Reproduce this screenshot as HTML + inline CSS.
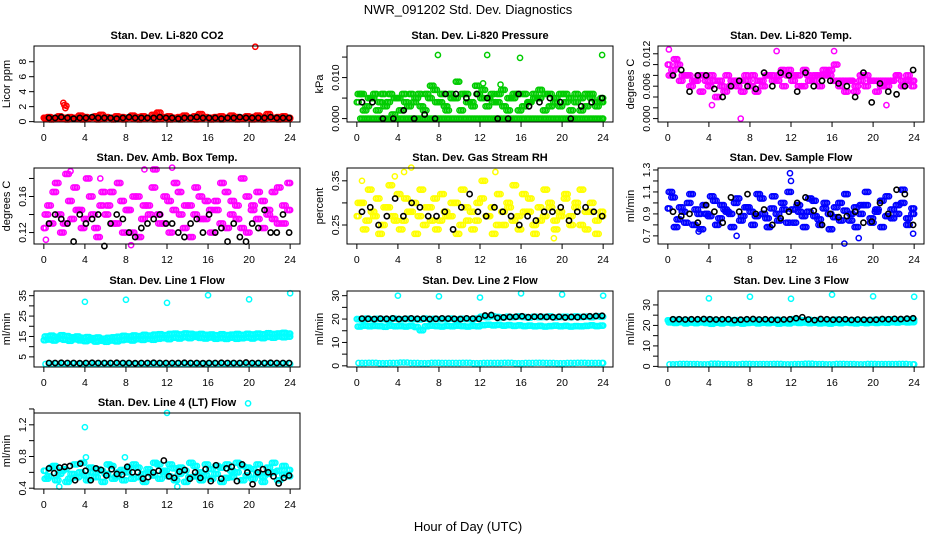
<!DOCTYPE html>
<html><head><meta charset="utf-8"><style>
html,body{margin:0;padding:0;background:#fff;}
svg{display:block;font-family:"Liberation Sans",sans-serif;}
</style></head><body>
<svg id="chart" width="936" height="540" viewBox="0 0 936 540">
<text x="468" y="14" text-anchor="middle" font-size="13">NWR_091202  Std. Dev. Diagnostics</text>
<text x="468" y="531" text-anchor="middle" font-size="13">Hour of Day (UTC)</text>
</svg>
<script>
// ---- data ----
const co2A=[0.5,0.6,0.4,0.7,0.5,0.6,0.5,0.8,0.6,0.5,0.7,0.9,0.6,0.5,0.7,0.6,0.5,0.8,0.6,0.7,0.5,0.9,1.2,0.6,0.7,0.5,0.6,0.8,0.5,0.7,1.0,0.6,0.5,0.6,0.7,0.5,0.8,0.6,0.5,0.7,0.6,0.8,0.6,1.0,0.5,0.6,0.7,0.5];
const co2B=[0.4,0.3,0.5,0.4,0.3,0.5,0.4,0.3,0.4,0.5,0.3,0.4,0.5,0.3,0.4,0.3,0.5,0.4,0.3,0.4,0.5,0.3,0.4,0.5,0.3,0.4,0.3,0.5,0.4,0.3,0.4,0.5,0.3,0.4,0.3,0.5,0.4,0.3,0.4,0.5,0.3,0.4,0.3,0.5,0.4,0.3,0.4,0.4];
const co2ExT=[1.9,2.0,2.2,2.1,20.6];
const co2ExV=[2.5,2.2,2.1,1.8,10];
const co2Blk=[0.5,0.5,0.6,0.5,0.4,0.5,0.5,0.6,0.5,0.5,0.5,0.4,0.5,0.6,0.5,0.5,0.5,0.5,0.6,0.5,0.5,0.4,0.5,0.5,0.6,0.5,0.5,0.5,0.4,0.5,0.5,0.6,0.5,0.5,0.5,0.5,0.6,0.5,0.5,0.5];

const prA=[0.004,0.006,0.003,0.005,0.002,0.006,0.004,0.001,0.005,0.006,0.003,0.004,0.006,0.002,0.005,0.007,0.004,0.003,0.006,0.005,0.002,0.006,0.004,0.008,0.005,0.003,0.006,0.004,0.007,0.002,0.005,0.006,0.003,0.004,0.006,0.005,0.002,0.006,0.004,0.003,0.006,0.005,0.004,0.002,0.006,0.005,0.003,0.004];
const prB=[0.006,0.002,0.005,0.006,0.004,0.003,0.006,0.005,0.002,0.004,0.006,0.005,0.003,0.006,0.008,0.004,0.006,0.002,0.005,0.009,0.006,0.004,0.003,0.006,0.007,0.005,0.004,0.006,0.003,0.005,0.006,0.002,0.006,0.004,0.005,0.007,0.006,0.003,0.005,0.006,0.004,0.002,0.006,0.005,0.003,0.006,0.004,0.005];
const prZero=[0,0,0,0,0,0,0,0,0,0,0,0,0,0,0,0,0,0,0,0,0,0,0,0,0,0,0,0,0,0,0,0,0,0,0,0,0,0,0,0,0,0,0,0,0,0,0,0];
const prExT=[7.9,12.7,15.9,23.9,12.3,14.0];
const prExV=[0.0155,0.0155,0.0148,0.0155,0.0086,0.0083];
const prBlk=[0.004,0.004,0,0,0.002,0,0.001,0,0.006,0.006,0.005,0.006,0.005,0,0,0.006,0.003,0.004,0.005,0.004,0,0.003,0.004,0.005];

const ltA=[0.010,0.009,0.010,0.008,0.008,0.007,0.008,0.008,0.006,0.007,0.007,0.005,0.006,0.007,0.007,0.008,0.006,0.005,0.007,0.008,0.008,0.007,0.009,0.008,0.007,0.008,0.006,0.008,0.007,0.008,0.009,0.008,0.007,0.006,0.007,0.007,0.005,0.007,0.006,0.007,0.007,0.006,0.007,0.007,0.008,0.007,0.007,0.006];
const ltB=[0.008,0.011,0.007,0.008,0.006,0.007,0.005,0.007,0.008,0.004,0.006,0.008,0.007,0.006,0.005,0.007,0.008,0.007,0.006,0.008,0.007,0.008,0.006,0.009,0.008,0.006,0.009,0.007,0.008,0.006,0.008,0.009,0.010,0.007,0.005,0.007,0.006,0.008,0.008,0.007,0.005,0.007,0.006,0.007,0.008,0.006,0.008,0.007];
const ltExT=[7.1,4.3,10.6,16.2,21.3,0.1];
const ltExV=[0.0,0.0025,0.0125,0.0125,0.0025,0.0128];
const ltBlk=[0.008,0.009,0.005,0.008,0.008,0.0055,0.004,0.006,0.007,0.006,0.0055,0.0085,0.006,0.0085,0.008,0.005,0.0085,0.006,0.007,0.007,0.0065,0.006,0.004,0.0085,0.003,0.0065,0.005,0.0045,0.006,0.009];

const amA=[0.125,0.150,0.165,0.140,0.130,0.155,0.170,0.145,0.135,0.160,0.125,0.150,0.140,0.165,0.130,0.155,0.145,0.120,0.160,0.135,0.150,0.170,0.140,0.130,0.155,0.145,0.165,0.125,0.150,0.140,0.160,0.135,0.145,0.155,0.130,0.165,0.140,0.150,0.125,0.160,0.145,0.135,0.155,0.140,0.165,0.130,0.150,0.145];
const amB=[0.140,0.130,0.175,0.120,0.185,0.135,0.145,0.125,0.180,0.140,0.115,0.165,0.150,0.130,0.175,0.120,0.145,0.160,0.115,0.150,0.140,0.190,0.130,0.160,0.120,0.175,0.140,0.150,0.115,0.170,0.135,0.155,0.120,0.145,0.175,0.125,0.155,0.135,0.180,0.120,0.150,0.165,0.125,0.145,0.135,0.170,0.130,0.175];
const amExT=[2.6,5.5,9.8,12.5,8.5,0.2];
const amExV=[0.188,0.180,0.190,0.192,0.106,0.112];
const amBlk=[0.13,0.14,0.135,0.13,0.11,0.14,0.13,0.135,0.14,0.105,0.13,0.14,0.135,0.12,0.115,0.125,0.13,0.135,0.14,0.13,0.13,0.12,0.115,0.13,0.135,0.12,0.14,0.12,0.125,0.11,0.13,0.115,0.11,0.13,0.125,0.145,0.12,0.12,0.14,0.12];

const rhA=[0.27,0.30,0.26,0.28,0.31,0.25,0.29,0.27,0.32,0.26,0.28,0.30,0.27,0.25,0.29,0.31,0.26,0.28,0.27,0.30,0.25,0.29,0.28,0.26,0.31,0.27,0.29,0.25,0.28,0.30,0.26,0.27,0.32,0.28,0.25,0.29,0.27,0.30,0.26,0.28,0.31,0.27,0.29,0.25,0.28,0.30,0.26,0.28];
const rhB=[0.30,0.24,0.33,0.27,0.23,0.29,0.34,0.26,0.24,0.31,0.28,0.23,0.33,0.29,0.26,0.24,0.32,0.27,0.30,0.23,0.33,0.26,0.24,0.30,0.35,0.27,0.23,0.32,0.25,0.29,0.34,0.24,0.28,0.31,0.23,0.26,0.33,0.29,0.24,0.27,0.32,0.25,0.30,0.33,0.24,0.28,0.23,0.27];
const rhExT=[0.5,3.7,4.6,5.3,13.5,19.2];
const rhExV=[0.35,0.36,0.37,0.38,0.37,0.22];
const rhBlk=[0.28,0.29,0.25,0.27,0.31,0.27,0.30,0.29,0.27,0.27,0.28,0.24,0.29,0.32,0.28,0.27,0.29,0.28,0.27,0.25,0.27,0.26,0.28,0.28,0.29,0.26,0.28,0.29,0.28,0.27];

const sfA=[0.95,1.05,0.85,0.92,1.00,0.80,0.90,0.98,0.88,1.02,0.86,0.94,0.90,1.00,0.84,0.96,0.92,0.88,1.04,0.86,0.95,0.90,1.00,0.82,0.94,0.98,0.88,0.92,1.02,0.85,0.95,0.90,0.87,1.00,0.93,0.84,0.96,0.90,0.98,0.86,0.92,1.02,0.88,0.94,0.90,1.00,0.86,0.95];
const sfB=[1.10,0.78,0.96,0.82,1.08,0.94,0.76,0.90,1.06,0.80,0.98,0.92,0.78,1.04,0.88,0.96,0.80,1.08,0.90,0.78,1.06,0.84,0.94,1.10,0.82,0.92,0.78,1.04,0.88,0.80,1.00,0.76,0.96,0.84,1.08,0.90,0.78,0.98,1.10,0.82,0.94,0.78,1.06,0.86,0.98,1.12,0.80,0.90];
const sfExT=[11.9,12.0,3.0,6.7,17.2,18.6,23.9];
const sfExV=[1.27,1.20,0.74,0.70,0.63,0.68,0.72];
const sfBlk=[0.92,0.88,0.90,0.82,0.98,0.92,0.82,1.05,0.92,1.08,0.90,0.94,0.80,0.86,0.92,1.00,1.05,0.93,0.80,0.90,0.87,0.88,0.92,0.82,0.83,1.00,0.90,1.12,1.08,0.80];

const l1A=[13.2,13.5,13.0,13.8,13.4,12.9,13.6,13.1,12.7,13.3,12.5,12.9,12.4,13.0,12.6,13.2,13.5,13.0,13.7,13.3,13.8,13.4,13.9,14.2,13.7,14.4,14.0,14.6,14.2,14.8,14.3,14.0,14.5,13.9,14.2,13.8,14.4,13.9,14.1,14.5,14.0,14.6,14.2,14.8,14.4,15.0,14.6,14.9];
const l1B=[15.0,15.4,14.8,15.6,15.2,14.6,15.0,14.4,14.7,14.2,14.5,13.9,14.3,14.6,14.9,15.3,15.0,15.5,15.2,15.8,15.4,15.9,16.1,15.7,16.2,16.4,16.0,16.5,16.3,15.9,16.2,15.8,16.0,15.6,16.1,15.7,15.9,16.2,15.8,16.3,16.0,16.4,16.1,16.6,16.2,16.5,16.8,16.4];
const l1Low=[1.5,1.6,1.5,1.4,1.6,1.5,1.5,1.6,1.4,1.5,1.6,1.5,1.5,1.4,1.6,1.5,1.5,1.6,1.5,1.4,1.5,1.6,1.5,1.5];
const l1ExT=[4,8,12,16,20,24];
const l1ExV=[32,33,31.5,35.2,33.2,36.2];
const l1Blk=[2.0,2.0,2.1,2.0,2.0,1.9,2.0,2.1,2.0,2.0,2.0,2.1,2.0,2.0,1.9,2.0,2.0,2.1,2.0,2.0,2.0,2.0,2.1,2.0,2.0,1.9,2.0,2.0,2.1,2.0,2.0,2.0,2.2,2.0,2.0,2.0,2.1,2.0,2.0,2.0];

const l2Top=[20.0,19.8,20.2,19.9,20.1,20.0,19.7,20.2,20.0,19.9,20.1,20.0,19.8,20.2,20.0,20.1,19.9,20.0,20.2,19.8,20.1,20.0,19.9,20.2,21.0,20.8,21.2,20.9,20.7,21.0,20.8,21.1,20.9,20.6,21.0,20.8,20.9,21.1,20.7,20.9,21.0,20.8,21.1,20.9,21.0,20.8,21.2,21.0];
const l2Mid=[16.8,17.2,16.9,17.1,17.0,16.7,17.2,16.9,17.0,16.8,17.1,16.6,15.2,16.9,17.2,17.0,16.8,17.1,16.9,17.2,17.0,16.8,17.1,16.9,17.4,17.6,17.3,17.5,17.2,17.4,17.1,17.3,17.0,17.2,16.9,17.1,16.8,17.0,17.2,16.9,17.1,16.8,17.0,16.9,17.1,17.3,17.0,17.2];
const l2Low=[1.2,1.3,1.1,1.2,1.4,1.2,1.1,1.3,1.2,1.2,1.3,1.1,1.2,1.2,1.3,1.1,1.2,1.3,1.2,1.1,1.2,1.3,1.2,1.2];
const l2ExT=[4,8,12,16,20,24];
const l2ExV=[30,29.7,29.2,31,30.5,30];
const l2Blk=[20.2,20.1,20.0,20.2,20.1,20.3,20.0,20.2,20.3,20.1,20.2,20.0,20.1,20.3,20.2,20.1,20.0,20.3,20.2,20.1,21.5,21.7,20.5,20.7,20.9,21.0,21.2,20.8,21.0,21.1,20.9,20.8,21.0,20.7,20.9,20.8,21.0,21.2,21.3,21.4];

const l3A=[22.5,22.3,22.7,22.4,22.6,22.2,22.5,22.4,22.8,22.3,22.5,22.1,22.4,22.6,22.3,22.5,22.2,22.6,22.4,22.3,22.5,22.7,22.4,22.2,23.0,22.8,22.5,22.7,22.4,22.6,22.3,22.5,22.8,22.4,22.6,22.3,22.5,22.2,22.4,22.6,22.8,22.5,22.7,22.9,22.6,22.8,23.0,22.8];
const l3B=[21.5,21.2,21.6,21.0,21.4,21.1,21.5,21.2,20.8,21.3,21.0,21.4,21.1,21.3,20.9,21.2,21.4,21.0,21.3,21.1,21.4,20.9,21.2,21.0,21.5,21.2,21.4,21.1,21.3,21.0,21.2,20.9,21.3,21.1,21.4,21.2,21.0,21.3,21.1,21.4,21.2,21.5,21.3,21.6,21.4,21.7,21.5,21.6];
const l3Low=[1.0,1.2,1.1,1.0,1.3,1.1,1.0,1.2,1.1,1.1,1.2,1.0,1.1,1.3,1.1,1.0,1.2,1.1,1.0,1.2,1.1,1.1,1.2,1.0];
const l3ExT=[4,8,12,16,20,24];
const l3ExV=[33.2,34,33,35,34.2,34];
const l3Blk=[23.0,23.0,22.9,23.0,23.0,23.1,23.0,22.9,23.0,23.0,22.6,22.8,23.0,23.1,22.9,23.0,22.8,22.7,22.9,23.0,23.5,24.0,22.9,22.6,23.1,23.0,22.8,22.9,23.0,22.7,22.9,22.8,22.7,22.8,23.1,23.0,23.2,23.1,23.3,23.5];

const l4A=[0.62,0.55,0.68,0.58,0.64,0.52,0.70,0.60,0.56,0.66,0.54,0.62,0.58,0.68,0.55,0.63,0.60,0.52,0.66,0.58,0.64,0.56,0.70,0.60,0.55,0.65,0.58,0.62,0.54,0.68,0.60,0.56,0.64,0.58,0.66,0.53,0.62,0.60,0.68,0.56,0.64,0.58,0.55,0.66,0.60,0.62,0.57,0.63];
const l4B=[0.52,0.66,0.50,0.62,0.48,0.58,0.54,0.72,0.50,0.60,0.64,0.48,0.70,0.52,0.60,0.50,0.66,0.70,0.54,0.48,0.60,0.72,0.52,0.62,0.70,0.50,0.66,0.48,0.72,0.55,0.50,0.70,0.52,0.68,0.48,0.70,0.54,0.72,0.50,0.66,0.52,0.70,0.48,0.58,0.72,0.50,0.68,0.55];
const l4ExT=[4.0,12.0,19.9,4.1,1.5,13.0,7.9];
const l4ExV=[1.17,1.35,1.47,0.79,0.42,0.42,0.79];
const l4Blk=[0.65,0.59,0.66,0.67,0.68,0.50,0.71,0.62,0.50,0.65,0.63,0.56,0.64,0.58,0.57,0.67,0.60,0.60,0.52,0.54,0.60,0.62,0.75,0.55,0.53,0.61,0.63,0.52,0.60,0.53,0.64,0.49,0.69,0.52,0.65,0.67,0.49,0.70,0.60,0.45,0.60,0.64,0.60,0.55,0.46,0.53,0.56];

// ---- axis configuration ----
const yTicks=[[0,2,4,6,8],[0,0.005,0.010,0.015],[0,0.002,0.004,0.006,0.008,0.010,0.012],[0.12,0.14,0.16,0.18],[0.25,0.30,0.35],[0.7,0.8,0.9,1.0,1.1,1.2,1.3],[5,10,15,20,25,30,35],[0,5,10,15,20,25,30],[0,5,10,15,20,25,30],[0.4,0.6,0.8,1.0,1.2,1.4]];
const yLabels=[["0","2","4","6","8"],["0.000","","0.010",""],["0.000","","","0.006","","","0.012"],["0.12","","0.16",""],["0.25","","0.35"],["0.7","","0.9","","1.1","","1.3"],["5","","15","","25","","35"],["0","","10","","20","","30"],["0","","10","","20","","30"],["0.4","","0.8","","1.2",""]];
const xTicks=[0,4,8,12,16,20,24];

const titles=["Stan. Dev. Li-820 CO2","Stan. Dev. Li-820 Pressure","Stan. Dev. Li-820 Temp.","Stan. Dev. Amb. Box Temp.","Stan. Dev. Gas Stream RH","Stan. Dev. Sample Flow","Stan. Dev. Line 1 Flow","Stan. Dev. Line 2 Flow","Stan. Dev. Line 3 Flow","Stan. Dev. Line 4 (LT) Flow"];
const yTitles=["Licor ppm","kPa","degrees C","degrees C","percent","ml/min","ml/min","ml/min","ml/min","ml/min"];
const yLims=[[-0.05,10.1],[-0.00083,0.0177],[-0.00063,0.01344],[0.1073,0.1916],[0.207,0.379],[0.626,1.318],[0.03,37.3],[-0.5,32],[-0.3,36.8],[0.39,1.349]];
const colors=["#ff0000","#00cc00","#ff00ff","#ff00ff","#ffff00","#0000ff","#00ffff","#00ffff","#00ffff","#00ffff"];
const cloud=[[co2A,co2B],[prA,prB,prZero],[ltA,ltB],[amA,amB],[rhA,rhB],[sfA,sfB],[l1A,l1B,l1Low],[l2Top,l2Mid,l2Low],[l3A,l3B,l3Low],[l4A,l4B]];
const exT=[co2ExT,prExT,ltExT,amExT,rhExT,sfExT,l1ExT,l2ExT,l3ExT,l4ExT];
const exV=[co2ExV,prExV,ltExV,amExV,rhExV,sfExV,l1ExV,l2ExV,l3ExV,l4ExV];
const blk=[co2Blk,prBlk,ltBlk,amBlk,rhBlk,sfBlk,l1Blk,l2Blk,l3Blk,l4Blk];

const colLeft=[34,347,658], panelW=266, rowTop=[46,168,291,413], panelH=76;
const NS="http://www.w3.org/2000/svg";
const svg=document.getElementById('chart');
function mk(tag,attrs,parent){const e=document.createElementNS(NS,tag);for(const k in attrs)e.setAttribute(k,attrs[k]);(parent||svg).appendChild(e);return e;}

for(let p=0;p<10;p++){
  const L=colLeft[p%3], T=rowTop[Math.floor(p/3)];
  const g=mk('g',{});
  
  
  const xs=t=>L+(t+0.96)/25.92*panelW;
  const [y0,y1]=yLims[p];
  const ys=v=>T+panelH-(v-y0)/(y1-y0)*panelH;
  const tt=mk('text',{x:L+panelW/2,y:T-7,'text-anchor':'middle','font-size':11,'font-weight':'bold'},g);
  tt.textContent=titles[p];
  
  
  const yt=mk('text',{x:0,y:0,'text-anchor':'middle','font-size':11,transform:`translate(${L-24},${T+panelH/2}) rotate(-90)`},g);
  yt.textContent=yTitles[p];
  
  
  const pts=mk('g',{fill:'none',stroke:colors[p],'stroke-width':1.5},g);
  
  
  cloud[p].forEach((arr,k)=>{
    const n=arr.length;
    const t0=k===0?0:(k===1?0.25:0.5);
    const step=(23.9-t0)/(n-1);
    arr.forEach((v,i)=>{
      const t=t0+i*step;
      // each reading drawn as a small cluster of 3 markers across its time slot (dense instrument sampling)
      [-1,0,1].forEach(o=>{
        const c=mk('circle',{cx:xs(Math.min(24,Math.max(0,t+o*step/3))),cy:ys(v),r:2.6},pts);
        
        
      });
    });
  });
  exT[p].forEach((t,i)=>{
    const c=mk('circle',{cx:xs(t),cy:ys(exV[p][i]),r:2.6},pts);
    
    
  });
  const bg=mk('g',{fill:'none',stroke:'#000','stroke-width':1.6},g);
  
  
  const bn=blk[p].length;
  blk[p].forEach((v,i)=>{
    const t=0.5+i*(23.4)/(bn-1);
    const c=mk('circle',{cx:xs(t),cy:ys(v),r:2.6},bg);
    
    
  });
  const box=mk('rect',{x:L,y:T,width:panelW,height:panelH,fill:'none',stroke:'#000','stroke-width':1},g);
  
  
  const xa=mk('g',{'font-size':10.5,'text-anchor':'middle'},g);
  
  
  mk('line',{x1:xs(0),x2:xs(24),y1:T+panelH,y2:T+panelH,stroke:'#000'},xa);
  xTicks.forEach(t=>{
    mk('line',{x1:xs(t),x2:xs(t),y1:T+panelH,y2:T+panelH+5,stroke:'#000'},xa);
    const tx=mk('text',{x:xs(t),y:T+panelH+19},xa);
    tx.textContent=t;
    
    
  });
  const ya=mk('g',{'font-size':10.5,'text-anchor':'middle'},g);
  
  
  const tk=yTicks[p];
  mk('line',{x1:L,x2:L,y1:ys(tk[0]),y2:ys(tk[tk.length-1]),stroke:'#000'},ya);
  tk.forEach((v,i)=>{
    mk('line',{x1:L-5,x2:L,y1:ys(v),y2:ys(v),stroke:'#000'},ya);
    if(yLabels[p][i]){
      const tx=mk('text',{x:0,y:0,transform:`translate(${L-8},${ys(v)}) rotate(-90)`},ya);
      tx.textContent=yLabels[p][i];
      
      
    }
  });
}
</script>
</body></html>
